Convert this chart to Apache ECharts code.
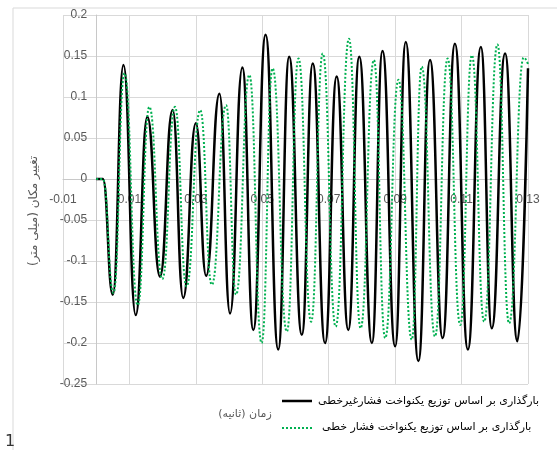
<!DOCTYPE html>
<html><head><meta charset="utf-8">
<script src="https://cdn.jsdelivr.net/npm/echarts@6/dist/echarts.min.js"></script>
<style>html,body{margin:0;padding:0;background:#fff}#c{width:557px;height:450px}</style>
</head><body><div id="c"></div>
<script>
// time (s) of peaks/troughs, displacement (mm)
var blackX = [0, 0.002, 0.005, 0.0082, 0.0119, 0.0154, 0.0192, 0.0230, 0.0262, 0.0300, 0.0331, 0.0371, 0.0403, 0.0440, 0.0473, 0.0510, 0.0548, 0.0581, 0.0619, 0.0652, 0.0689, 0.0724, 0.0759, 0.0792, 0.0830, 0.0862, 0.0900, 0.0932, 0.0970, 0.1005, 0.1043, 0.1080, 0.1119, 0.1158, 0.1191, 0.1231, 0.1268, 0.1300];
var blackY = [0, 0, -0.141, 0.139, -0.166, 0.076, -0.119, 0.084, -0.145, 0.068, -0.118, 0.104, -0.164, 0.136, -0.184, 0.176, -0.208, 0.149, -0.190, 0.141, -0.200, 0.125, -0.184, 0.149, -0.200, 0.156, -0.204, 0.167, -0.222, 0.145, -0.194, 0.165, -0.208, 0.161, -0.182, 0.153, -0.198, 0.135];
var greenX = [0, 0.002, 0.0052, 0.0085, 0.0125, 0.0160, 0.0199, 0.0237, 0.0272, 0.0313, 0.0348, 0.0391, 0.0421, 0.0461, 0.0498, 0.0531, 0.0574, 0.0609, 0.0647, 0.0682, 0.0721, 0.0761, 0.0796, 0.0836, 0.0870, 0.0910, 0.0950, 0.0980, 0.1020, 0.1058, 0.1096, 0.1131, 0.1168, 0.1208, 0.1243, 0.1287, 0.1300];
var greenY = [0, 0, -0.139, 0.129, -0.154, 0.088, -0.122, 0.088, -0.131, 0.084, -0.129, 0.090, -0.141, 0.127, -0.200, 0.135, -0.186, 0.147, -0.174, 0.153, -0.180, 0.171, -0.182, 0.145, -0.194, 0.121, -0.196, 0.137, -0.192, 0.147, -0.178, 0.151, -0.174, 0.164, -0.176, 0.148, 0.140];
var xTickLabels = ['-0.01', '0.01', '0.03', '0.05', '0.07', '0.09', '0.11', '0.13'];
var yTickLabels = ['-0.25', '-0.2', '-0.15', '-0.1', '-0.05', '0', '0.05', '0.1', '0.15', '0.2'];
var seriesNames = ['\u200Fبارگذاری بر اساس توزیع یکنواخت فشارغیرخطی\u200F', '\u200Fبارگذاری بر اساس توزیع یکنواخت فشار خطی\u200F'];
var xTitle = '\u200Fزمان (ثانیه)\u200F';
var yTitle = '\u200Fتغییر مکان (میلی متر)\u200F';

var X_MIN = -0.01, X_MAX = 0.13, Y_MIN = -0.25, Y_MAX = 0.2;
var G = { left: 63, right: 29, top: 15, bottom: 66 };
var W = 557, H = 450;
var plotW = W - G.left - G.right, plotH = H - G.top - G.bottom;
var xAxisOffset = -plotH * (0 - Y_MIN) / (Y_MAX - Y_MIN);
var yAxisOffset = -plotW * (0 - X_MIN) / (X_MAX - X_MIN);

function pairs(xs, ys) { return xs.map(function (x, i) { return [x, ys[i]]; }); }

var chart = echarts.init(document.getElementById('c'), null, { renderer: 'canvas' });
chart.setOption({
  animation: false,
  backgroundColor: '#fff',
  grid: { left: G.left, right: G.right, top: G.top, bottom: G.bottom, containLabel: false },
  xAxis: {
    type: 'value', min: X_MIN, max: X_MAX, interval: 0.02, position: 'bottom', offset: xAxisOffset,
    axisLine: { onZero: false, lineStyle: { color: '#c8c8c8', width: 1 } },
    axisTick: { show: false },
    axisLabel: { color: '#595959', fontSize: 12, fontFamily: 'Liberation Sans', margin: 15,
      formatter: function (v, i) { return xTickLabels[i]; } },
    splitLine: { show: true, lineStyle: { color: '#d9d9d9', width: 1 } }
  },
  yAxis: {
    type: 'value', min: Y_MIN, max: Y_MAX, interval: 0.05, position: 'left', offset: yAxisOffset,
    axisLine: { show: true, onZero: false, lineStyle: { color: '#c8c8c8', width: 1 } },
    axisTick: { show: false },
    axisLabel: { color: '#595959', fontSize: 12, fontFamily: 'Liberation Sans', margin: 9,
      formatter: function (v, i) { return yTickLabels[i]; } },
    splitLine: { show: true, lineStyle: { color: '#d9d9d9', width: 1 } }
  },
  graphic: [
    { type: 'line', shape: { x1: 13, y1: 8, x2: 557, y2: 8 }, style: { stroke: '#d9d9d9', lineWidth: 1 } },
    { type: 'line', shape: { x1: 13, y1: 8, x2: 13, y2: 450 }, style: { stroke: '#d9d9d9', lineWidth: 1 } },
    { type: 'text', x: 245, y: 414, style: { text: xTitle, fill: '#595959', fontSize: 11, fontFamily: 'DejaVu Sans', align: 'center', verticalAlign: 'middle' } },
    { type: 'text', x: 34, y: 211, rotation: Math.PI / 2, style: { text: yTitle, fill: '#595959', fontSize: 12, fontFamily: 'DejaVu Sans', align: 'center', verticalAlign: 'middle' } },
    { type: 'text', x: 10, y: 442, style: { text: '1', fill: '#333', fontSize: 16, fontFamily: 'DejaVu Sans', align: 'center', verticalAlign: 'middle' } },
    // legend
    { type: 'line', shape: { x1: 282, y1: 401, x2: 312, y2: 401 }, style: { stroke: '#000', lineWidth: 2.5 } },
    { type: 'text', x: 318, y: 401, style: { text: seriesNames[0], fill: '#000', fontSize: 11, fontFamily: 'DejaVu Sans', align: 'left', verticalAlign: 'middle' } },
    { type: 'line', shape: { x1: 282, y1: 428, x2: 312, y2: 428 }, style: { stroke: '#00b050', lineWidth: 2, lineDash: [2, 2] } },
    { type: 'text', x: 322, y: 427, style: { text: seriesNames[1], fill: '#000', fontSize: 11, fontFamily: 'DejaVu Sans', align: 'left', verticalAlign: 'middle' } }
  ],
  series: [
    { name: seriesNames[0], type: 'line', data: pairs(blackX, blackY), symbol: 'none', smooth: 0.5, smoothMonotone: 'x',
      lineStyle: { color: '#000', width: 2.5 }, itemStyle: { color: '#000' }, z: 2 },
    { name: seriesNames[1], type: 'line', data: pairs(greenX, greenY), symbol: 'none', smooth: 0.5, smoothMonotone: 'x',
      lineStyle: { color: '#00b050', width: 2, type: 'dotted' }, itemStyle: { color: '#00b050' }, z: 3 }
  ]
});
</script></body></html>
